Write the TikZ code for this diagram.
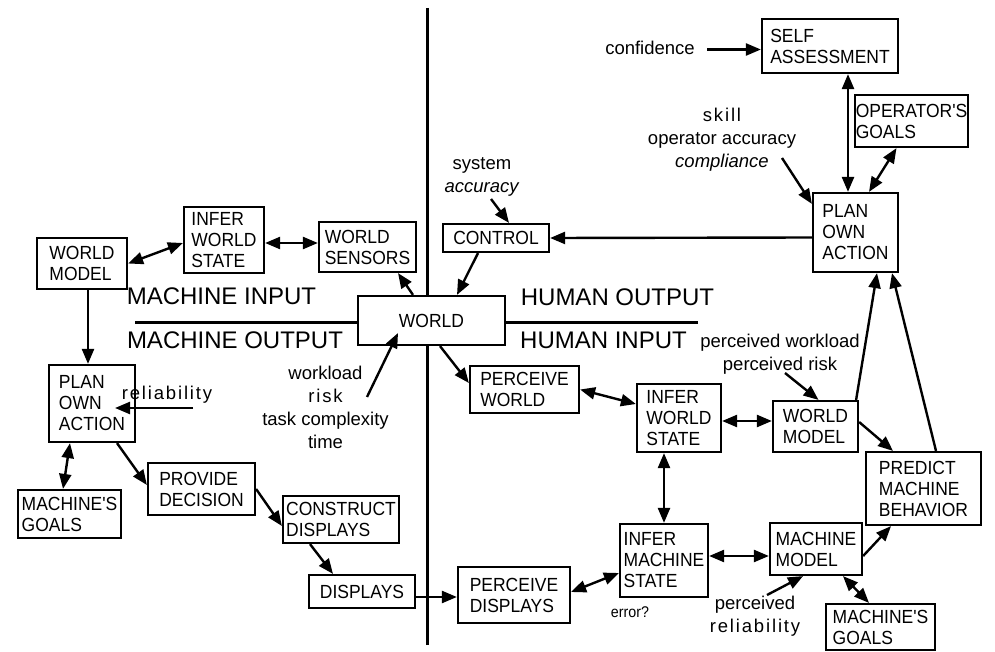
\documentclass[tikz,border=0pt]{standalone}
\usepackage{fontspec}
\setmainfont{Liberation Sans}
\newfontfamily\narrowfam[FakeStretch=0.92]{Liberation Sans}
\usetikzlibrary{arrows.meta}

\newcommand\boxfont{\narrowfam\fontsize{19}{21}\selectfont}
\newcommand\zonefont{\fontsize{24}{28}\selectfont}
\newcommand\lblfont{\fontsize{18.5}{23}\selectfont}
\newcommand\smallfont{\narrowfam\fontsize{15.5}{18}\selectfont}
\newcommand\spc[1]{{\addfontfeature{LetterSpace=10}#1}}

\tikzset{
  x=1pt, y=-1pt,
  box/.style={draw, line width=2.2pt, align=left, inner sep=0pt, font=\boxfont},
  tip/.tip={Triangle[length=15pt,width=12pt]},
  arr/.style={line width=2.4pt, -tip},
  darr/.style={line width=2.4pt, tip-tip},
  divider/.style={line width=3pt},
  zone/.style={font=\zonefont, inner sep=0pt},
  lbl/.style={font=\lblfont, align=center, inner sep=0pt},
}

\begin{document}
\begin{tikzpicture}
\useasboundingbox (0,0) rectangle (995,652);

% ---------- machine side ----------
\node[box, minimum width=90pt,  minimum height=51pt] (wm1)  at (82,263.5)  {WORLD\\MODEL};
\node[box, minimum width=80pt,  minimum height=66pt] (iws1) at (224,240)   {INFER\\WORLD\\STATE};
\node[box, minimum width=97pt,  minimum height=50pt] (ws)   at (367.5,247) {WORLD\\SENSORS};
\node[box, minimum width=86pt,  minimum height=77pt] (poa1) at (92,403.5)  {PLAN\\OWN\\ACTION};
\node[box, minimum width=103pt, minimum height=48pt] (mg1)  at (69.5,514)  {MACHINE'S\\GOALS};
\node[box, minimum width=107pt, minimum height=52pt] (pd)   at (201.5,489) {PROVIDE\\DECISION};
\node[box, minimum width=116pt, minimum height=47pt] (cd)   at (341,519.5) {CONSTRUCT\\DISPLAYS};
\node[box, minimum width=106pt, minimum height=33pt] (disp) at (362,591.5) {DISPLAYS};

% ---------- world ----------
\node[box, minimum width=147pt, minimum height=49pt, align=center] (world) at (431.5,320.5) {WORLD};

% ---------- human side ----------
\node[box, minimum width=106pt, minimum height=28pt] (ctrl)  at (496,238)     {CONTROL};
\node[box, minimum width=136pt, minimum height=54pt] (sa)    at (830,46)      {SELF\\ASSESSMENT};
\node[box, minimum width=113pt, minimum height=52pt] (og)    at (911.5,121)   {OPERATOR'S\\GOALS};
\node[box, minimum width=85pt,  minimum height=79pt] (poa2)  at (855.5,232.5) {PLAN\\OWN\\ACTION};
\node[box, minimum width=109pt, minimum height=47pt] (pw)    at (524.5,389.5) {PERCEIVE\\WORLD};
\node[box, minimum width=84pt,  minimum height=68pt] (iws2)  at (679,418)     {INFER\\WORLD\\STATE};
\node[box, minimum width=85pt,  minimum height=51pt] (wm2)   at (815.5,426.5) {WORLD\\MODEL};
\node[box, minimum width=115pt, minimum height=73pt] (pmb)   at (923.5,488.5) {PREDICT\\MACHINE\\BEHAVIOR};
\node[box, minimum width=88pt,  minimum height=73pt] (ims)   at (664,560.5)   {INFER\\MACHINE\\STATE};
\node[box, minimum width=112pt, minimum height=56pt] (pdisp) at (514,595)     {PERCEIVE\\DISPLAYS};
\node[box, minimum width=92pt,  minimum height=52pt] (mm)    at (816,549)     {MACHINE\\MODEL};
\node[box, minimum width=109pt, minimum height=46pt] (mg2)   at (880.5,627)   {MACHINE'S\\GOALS};

% ---------- zone titles ----------
\node[zone] (mi) at (221.5,296) {MACHINE INPUT};
\node[zone] (mo) at (235,340)   {MACHINE OUTPUT};
\node[zone] (ho) at (617.5,297) {HUMAN OUTPUT};
\node[zone] (hi) at (603.5,340) {HUMAN INPUT};

% ---------- factor labels ----------
\node[lbl] (conf)  at (650,48)     {confidence};
\node[lbl] (skill) at (722,140)    {\spc{skill}\\operator accuracy\\\textit{compliance}};
\node[lbl] (sys)   at (482,177)    {system\\\textit{accuracy}};
\node[lbl] (pwr)   at (780,354.5)  {perceived workload\\perceived risk};
\node[lbl] (wrk)   at (325.5,407.5){workload\\\spc{risk}\\task complexity\\time};
\node[lbl] (rel)   at (167,395)    {\spc{reliability}};
\node[lbl] (prel)  at (755,616)    {perceived\\\spc{reliability}};
\node[font=\smallfont, inner sep=0pt] (err) at (630,612) {error?};

% ---------- dividing lines ----------
\coordinate (vtop) at (427,8);
\coordinate (vbot) at (427,645);
\coordinate (hleft) at (135,322);
\coordinate (hright) at (698,322);
\draw[divider] (vtop) -- (vtop |- world.north);
\draw[divider] (vbot) -- (vbot |- world.south);
\draw[divider] (hleft) -- (hleft -| world.west);
\draw[divider] (hright) -- (hright -| world.east);

% ---------- label arrows ----------
\coordinate (confA) at (707,49.5);
\coordinate (skillA) at (782,158);
\coordinate (sysA) at (491,199);
\coordinate (pwrA) at (785,373);
\coordinate (wrkA) at (367,397);
\coordinate (wrkB) at (398,333);
\coordinate (relA) at (193,408);
\coordinate (relB) at (115,408);
\coordinate (prelA) at (767,595);

\draw[arr] (confA) -- ([yshift=-3.5pt]sa.west);
\draw[arr] (skillA) -- ([yshift=-12pt]poa2.north west);
\draw[arr] (sysA) -- ([xshift=13pt]ctrl.north);
\draw[arr] (pwrA) -- ([xshift=3pt]wm2.north);
\draw[arr] (wrkA) -- (wrkB);
\draw[arr] (relA) -- (relB);
\draw[arr] (prelA) -- ([xshift=-13pt]mm.south);

% ---------- machine connectors ----------
\draw[darr] (wm1.east) -- ([yshift=-3pt]iws1.west);
\draw[darr] ([yshift=-3pt]iws1.east) -- ([yshift=4pt]ws.west);
\draw[arr] ([xshift=-18.5pt]world.north) -- ([xshift=30.5pt]ws.south);
\draw[arr] ([xshift=6pt]wm1.south) -- ([xshift=-4pt]poa1.north);
\draw[darr] ([xshift=-22pt]poa1.south) -- ([xshift=-6.5pt]mg1.north);
\draw[arr] ([xshift=25pt]poa1.south) -- ([yshift=4pt]pd.west);
\draw[arr] (pd.east) -- ([yshift=-6.5pt]cd.west);
\draw[arr] ([xshift=-31pt]cd.south) -- ([xshift=-29pt]disp.north);
\draw[arr] ([yshift=-5.5pt]disp.east) -- ([yshift=-2pt]pdisp.west);

% ---------- human connectors ----------
\draw[arr] ([xshift=-18pt]ctrl.south) -- ([xshift=25.5pt]world.north);
\draw[arr] ([yshift=-5pt]poa2.west) -- (ctrl.east);
\draw[darr] ([xshift=18pt]sa.south) -- ([xshift=-7.5pt]poa2.north);
\draw[darr] ([xshift=-15pt]og.south) -- ([xshift=13.5pt]poa2.north);
\draw[arr] ([xshift=-3pt]wm2.north east) -- ([xshift=21.5pt]poa2.south);
\draw[arr] ([xshift=12.5pt]pmb.north) -- ([xshift=36.5pt]poa2.south);
\draw[arr] ([yshift=4.5pt]wm2.east) -- ([xshift=-30.5pt]pmb.north);
\draw[arr] ([xshift=8.5pt]world.south) -- ([yshift=6.5pt]pw.west);
\draw[darr] (pw.east) -- ([yshift=14pt]iws2.west);
\draw[darr] ([yshift=-3pt]iws2.east) -- ([yshift=5.5pt]wm2.west);
\draw[darr] ([xshift=-15pt]iws2.south) -- (ims.north);
\draw[darr] ([yshift=3pt]pdisp.east) -- ([yshift=-12.5pt]ims.west);
\draw[darr] ([yshift=4.5pt]ims.east) -- ([yshift=-7pt]mm.west);
\draw[darr] ([xshift=27pt]mm.south) -- ([xshift=-11.5pt]mg2.north);
\draw[arr] ([yshift=-7pt]mm.east) -- ([xshift=-32.5pt]pmb.south);
\end{tikzpicture}
\end{document}
